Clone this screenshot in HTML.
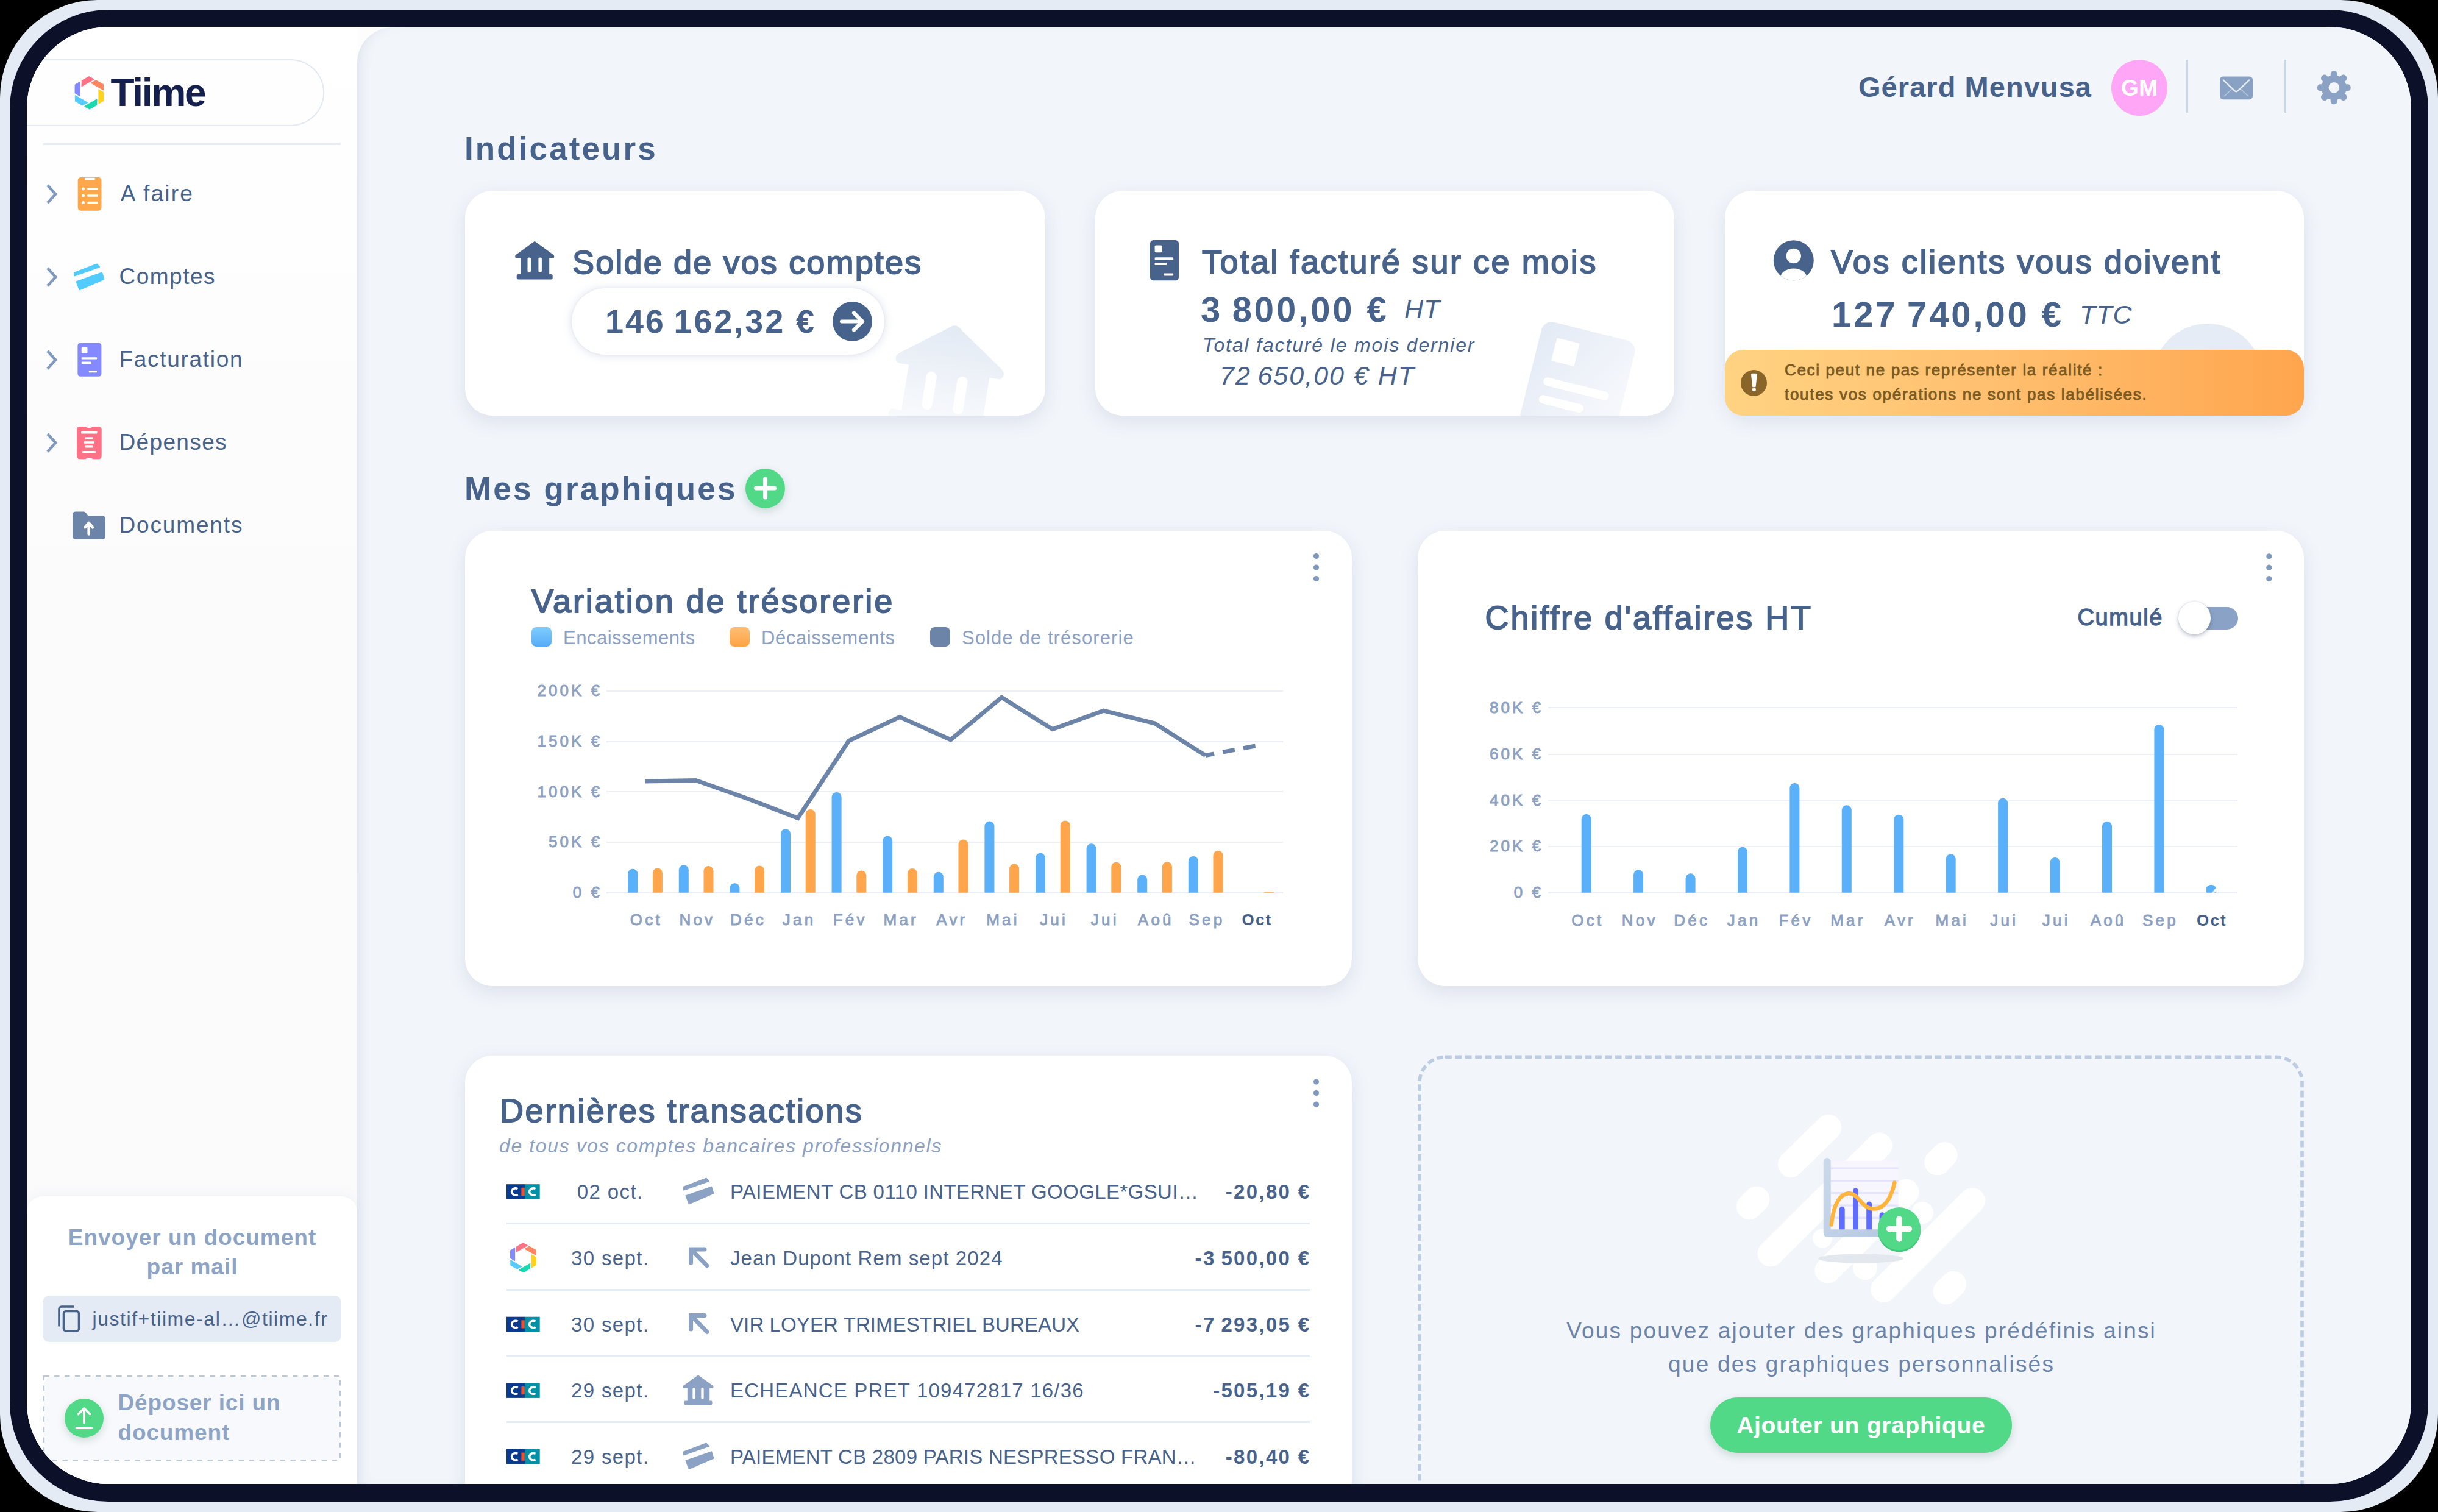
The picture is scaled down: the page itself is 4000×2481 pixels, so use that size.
<!DOCTYPE html>
<html lang="fr"><head><meta charset="utf-8"><title>Tiime</title>
<style>
html,body{margin:0;padding:0;background:#000;}
body{width:4000px;height:2481px;position:relative;overflow:hidden;font-family:"Liberation Sans", sans-serif;}
.t{position:absolute;white-space:nowrap;line-height:1;}
.abs{position:absolute;}
svg{position:absolute;left:0;top:0;overflow:visible;}
.card{position:absolute;background:#fff;border-radius:45px;box-shadow:0 10px 30px rgba(105,125,165,.16);overflow:hidden;}
</style></head><body>
<div class="abs" style="left:0;top:0;width:4000px;height:2481px;border-radius:160px;background:#E5EBF4;"></div>
<div class="abs" style="left:16px;top:16px;width:3968px;height:2448px;border-radius:162px;background:#0C1029;"></div>
<div class="abs" id="screen" style="left:44px;top:44px;width:3912px;height:2391px;border-radius:134px;overflow:hidden;background:#FDFDFE;">
<div class="abs" id="stage" style="left:-44px;top:-44px;width:4000px;height:2481px;">
<div style="position:absolute;left:44px;top:44px;width:542px;height:2391px;background:linear-gradient(180deg,#FFFFFF 0%,#FBFBFC 40%,#FAFAFB 100%);"></div>
<div style="position:absolute;left:586px;top:45px;width:3370px;height:2390px;background:#F2F5FA;border-top-left-radius:58px;box-shadow:inset 14px 0 22px -14px rgba(150,165,195,.30);"></div>
<div style="position:absolute;left:-20px;top:97px;width:552px;height:110px;box-sizing:border-box;border:2.5px solid #E2E9F3;border-radius:55px;background:#FEFEFF;"></div>
<div style="position:absolute;left:70px;top:234.5px;width:489px;height:3.0px;background:#E6ECF5;border-radius:2px;"></div>
<div class="t" style="left:181.5px;top:120.2px;font-size:64px;font-weight:700;letter-spacing:-2.2px;color:#16204F;">Tiime</div>
<div class="t" style="left:197.8px;top:299.3px;font-size:37px;letter-spacing:2.2px;color:#48638B;">A faire</div>
<div class="t" style="left:195.5px;top:435.3px;font-size:37px;letter-spacing:1.5px;color:#48638B;">Comptes</div>
<div class="t" style="left:195.5px;top:571.3px;font-size:37px;letter-spacing:1.7px;color:#48638B;">Facturation</div>
<div class="t" style="left:195.5px;top:707.3px;font-size:37px;letter-spacing:1.35px;color:#48638B;">Dépenses</div>
<div class="t" style="left:195.5px;top:843.3px;font-size:37px;letter-spacing:1.85px;color:#48638B;">Documents</div>
<div style="position:absolute;left:44px;top:1963px;width:542px;height:473px;background:#fff;border-radius:26px 26px 0 0;box-shadow:0 -4px 18px rgba(120,140,180,.06);"></div>
<div class="t" style="left:315.5px;transform:translateX(-50%);top:2011.7px;font-size:37px;font-weight:700;letter-spacing:1.0px;color:#8EA4C5;">Envoyer un document</div>
<div class="t" style="left:315.5px;transform:translateX(-50%);top:2060.2px;font-size:37px;font-weight:700;letter-spacing:1.0px;color:#8EA4C5;">par mail</div>
<div style="position:absolute;left:70px;top:2126px;width:489.5px;height:75.5px;background:#E4EBF4;border-radius:11px;"></div>
<div class="t" style="left:151.5px;top:2147.6px;font-size:32px;letter-spacing:1.55px;color:#48638B;">justif+tiime-al…@tiime.fr</div>
<div style="position:absolute;left:72.5px;top:2258.5px;width:485.0px;height:137.0px;background:#F8F9FC;border-radius:12px;"></div>
<div class="abs" style="left:106px;top:2295px;width:64px;height:64px;border-radius:50%;background:#52D987;box-shadow:0 5px 14px rgba(60,120,90,.22);"></div>
<div class="t" style="left:193.5px;top:2282.7px;font-size:37px;font-weight:700;letter-spacing:0.85px;color:#8EA4C5;">Déposer ici un</div>
<div class="t" style="left:193.5px;top:2331.7px;font-size:37px;font-weight:700;letter-spacing:0.85px;color:#8EA4C5;">document</div>
<div class="t" style="left:3049.0px;top:119.2px;font-size:47px;font-weight:700;letter-spacing:1.05px;color:#48638B;">Gérard Menvusa</div>
<div class="abs" style="left:3464px;top:97.5px;width:92px;height:92px;border-radius:50%;background:#FFA6F6;"></div>
<div class="t" style="left:3510.2px;transform:translateX(-50%);top:125.5px;font-size:37px;font-weight:700;letter-spacing:0.5px;color:#fff;">GM</div>
<div style="position:absolute;left:3587px;top:98px;width:3px;height:87px;background:#C9D6E8;"></div>
<div style="position:absolute;left:3747.5px;top:98px;width:3.0px;height:87px;background:#C9D6E8;"></div>
<div class="t" style="left:762.0px;top:217.1px;font-size:53px;font-weight:700;letter-spacing:3.1px;color:#48638B;">Indicateurs</div>
<div class="card" style="left:763px;top:313px;width:952px;height:369px;">
<svg width="952" height="369"><defs><linearGradient id="wm1" x1="0" y1="0" x2="0" y2="1"><stop offset="0" stop-color="#E3EAF4"/><stop offset="1" stop-color="#FAFBFD"/></linearGradient></defs><g transform="translate(803.8,217.5) rotate(9.2) scale(2.85) translate(-32,0)"><path d="M28.6 3.4 Q32.6 -0.9 36.6 3.4 L62.4 21.6 Q65 23.6 64.4 25.6 Q63.8 27.8 61.4 27.8 H56.6 V54.2 H59 a2.5 2.5 0 0 1 2.5 2.5 V60.3 a2.5 2.5 0 0 1 -2.5 2.5 H5 a2.5 2.5 0 0 1 -2.5 -2.5 V56.7 a2.5 2.5 0 0 1 2.5 -2.5 H9.6 V27.8 H4.6 Q2.2 27.8 1.6 25.6 Q1 23.6 3.6 21.6 Z M20.6 32.6 V48.6 a3 3 0 0 0 6 0 V32.6 a3 3 0 0 0 -6 0 Z M38.6 32.6 V48.6 a3 3 0 0 0 6 0 V32.6 a3 3 0 0 0 -6 0 Z" fill="url(#wm1)" fill-rule="evenodd"/></g></svg>
</div>
<div class="card" style="left:1796.5px;top:313px;width:950.5px;height:369px;">
<svg width="950" height="369"><defs><linearGradient id="wm2" x1="0" y1="0" x2="1" y2="0.75"><stop offset="0" stop-color="#E3EAF5"/><stop offset="1" stop-color="#F9FAFD"/></linearGradient></defs><g transform="translate(736.0999999999999,211.5) rotate(14) scale(4.05)"><rect width="39" height="55" rx="4.3" fill="url(#wm2)"/><rect x="6.9" y="5.9" width="9.5" height="9.5" rx="0.4" fill="#fff"/><rect x="5.8" y="22.3" width="27.2" height="3.4" rx="1.7" fill="#fff"/><rect x="5.8" y="29.7" width="18.5" height="3.4" rx="1.7" fill="#fff"/></g></svg>
</div>
<div class="card" style="left:2829.5px;top:313px;width:950.5px;height:369px;">
<div class="abs" style="left:701.5px;top:218px;width:182px;height:182px;border-radius:50%;background:#E6ECF5;"></div>
</div>
<div class="abs" style="left:2829.5px;top:573.8px;width:950.5px;height:108.4px;border-radius:30px;background:linear-gradient(90deg,#FFD382 0%,#FFC070 45%,#FFA54E 100%);"></div>
<div class="t" style="left:939.0px;top:402.6px;font-size:54px;letter-spacing:2.15px;color:#48638B;-webkit-text-stroke:1.8px #48638B;paint-order:stroke fill;">Solde de vos comptes</div>
<div class="abs" style="left:938px;top:473px;width:513px;height:108.5px;border-radius:55px;background:#fff;box-shadow:0 1px 15px rgba(96,122,170,.24), 0 0 3px rgba(96,122,170,.10);"></div>
<div class="t" style="left:993.0px;top:500.0px;font-size:54px;font-weight:700;letter-spacing:2.9px;color:#48638B;">146&#8201;162,32 €</div>
<div class="abs" style="left:1365.5px;top:495px;width:65px;height:65px;border-radius:50%;background:#48638B;"></div>
<div class="t" style="left:1972.0px;top:401.5px;font-size:54px;letter-spacing:2.55px;color:#48638B;-webkit-text-stroke:1.8px #48638B;paint-order:stroke fill;">Total facturé sur ce mois</div>
<div class="t" style="left:1970.0px;top:478.7px;font-size:58px;font-weight:700;letter-spacing:3.9px;color:#48638B;">3&#8201;800,00 €</div>
<div class="t" style="left:2304.0px;top:485.6px;font-size:43px;font-style:italic;letter-spacing:1px;color:#48638B;">HT</div>
<div class="t" style="left:1973.0px;top:549.9px;font-size:32px;font-style:italic;letter-spacing:1.85px;color:#48638B;">Total facturé le mois dernier</div>
<div class="t" style="left:2001.0px;top:594.6px;font-size:43px;font-style:italic;letter-spacing:2.0px;color:#48638B;">72&#8201;650,00 € HT</div>
<div class="t" style="left:3004.0px;top:401.5px;font-size:54px;letter-spacing:2.7px;color:#48638B;-webkit-text-stroke:1.8px #48638B;paint-order:stroke fill;">Vos clients vous doivent</div>
<div class="t" style="left:3005.0px;top:487.1px;font-size:58px;font-weight:700;letter-spacing:3.9px;color:#48638B;">127&#8201;740,00 €</div>
<div class="t" style="left:3412.0px;top:494.6px;font-size:43px;font-style:italic;letter-spacing:1px;color:#48638B;">TTC</div>
<div class="abs" style="left:2856px;top:606.6px;width:43.4px;height:43.4px;border-radius:50%;background:#8A6529;"></div>
<div class="t" style="left:2928.0px;top:594.0px;font-size:26px;letter-spacing:1.65px;color:#7B5B22;-webkit-text-stroke:0.9px #7B5B22;paint-order:stroke fill;">Ceci peut ne pas représenter la réalité :</div>
<div class="t" style="left:2928.0px;top:633.6px;font-size:26px;letter-spacing:1.7px;color:#7B5B22;-webkit-text-stroke:0.9px #7B5B22;paint-order:stroke fill;">toutes vos opérations ne sont pas labélisées.</div>
<div class="t" style="left:762.0px;top:775.1px;font-size:53px;font-weight:700;letter-spacing:3.15px;color:#48638B;">Mes graphiques</div>
<div class="abs" style="left:1223px;top:768.5px;width:65px;height:65px;border-radius:50%;background:#52D987;box-shadow:0 5px 14px rgba(60,120,90,.22);"></div>
<div class="card" style="left:763px;top:870.5px;width:1455px;height:747px;"></div>
<div class="t" style="left:872.0px;top:958.9px;font-size:54px;letter-spacing:2.95px;color:#48638B;-webkit-text-stroke:1.8px #48638B;paint-order:stroke fill;">Variation de trésorerie</div>
<div class="abs" style="left:872px;top:1029px;width:33px;height:32px;border-radius:8px;background:linear-gradient(180deg,#7ECDFF,#55ABF8);"></div>
<div class="t" style="left:924.0px;top:1030.6px;font-size:31px;letter-spacing:0.5px;color:#8CA1C2;">Encaissements</div>
<div class="abs" style="left:1196.5px;top:1029px;width:33px;height:32px;border-radius:8px;background:linear-gradient(180deg,#FFBE73,#FFA345);"></div>
<div class="t" style="left:1249.0px;top:1030.6px;font-size:31px;letter-spacing:0.6px;color:#8CA1C2;">Décaissements</div>
<div class="abs" style="left:1525.5px;top:1029px;width:33px;height:32px;border-radius:8px;background:#6B84A8;"></div>
<div class="t" style="left:1578.0px;top:1030.6px;font-size:31px;letter-spacing:1.1px;color:#8CA1C2;">Solde de trésorerie</div>
<div style="position:absolute;left:995px;top:1132.5px;width:1109.5px;height:2.0px;background:#ECEFF7;"></div>
<div class="t" style="right:3012.0px;top:1119.9px;font-size:26px;letter-spacing:4.0px;color:#8CA1C2;-webkit-text-stroke:0.9px #8CA1C2;paint-order:stroke fill;">200K €</div>
<div style="position:absolute;left:995px;top:1215.5px;width:1109.5px;height:2.0px;background:#ECEFF7;"></div>
<div class="t" style="right:3012.0px;top:1202.9px;font-size:26px;letter-spacing:4.0px;color:#8CA1C2;-webkit-text-stroke:0.9px #8CA1C2;paint-order:stroke fill;">150K €</div>
<div style="position:absolute;left:995px;top:1298.3px;width:1109.5px;height:2.0px;background:#ECEFF7;"></div>
<div class="t" style="right:3012.0px;top:1285.7px;font-size:26px;letter-spacing:4.0px;color:#8CA1C2;-webkit-text-stroke:0.9px #8CA1C2;paint-order:stroke fill;">100K €</div>
<div style="position:absolute;left:995px;top:1381px;width:1109.5px;height:2px;background:#ECEFF7;"></div>
<div class="t" style="right:3012.0px;top:1368.4px;font-size:26px;letter-spacing:4.0px;color:#8CA1C2;-webkit-text-stroke:0.9px #8CA1C2;paint-order:stroke fill;">50K €</div>
<div style="position:absolute;left:995px;top:1463.7px;width:1109.5px;height:2.0px;background:#ECEFF7;"></div>
<div class="t" style="right:3012.0px;top:1451.1px;font-size:26px;letter-spacing:4.0px;color:#8CA1C2;-webkit-text-stroke:0.9px #8CA1C2;paint-order:stroke fill;">0 €</div>
<div class="t" style="left:1060.3px;transform:translateX(-50%);top:1495.5px;font-size:26px;letter-spacing:4.2px;color:#8CA1C2;-webkit-text-stroke:0.9px #8CA1C2;paint-order:stroke fill;">Oct</div>
<div class="t" style="left:1143.9px;transform:translateX(-50%);top:1495.5px;font-size:26px;letter-spacing:4.2px;color:#8CA1C2;-webkit-text-stroke:0.9px #8CA1C2;paint-order:stroke fill;">Nov</div>
<div class="t" style="left:1227.5px;transform:translateX(-50%);top:1495.5px;font-size:26px;letter-spacing:4.2px;color:#8CA1C2;-webkit-text-stroke:0.9px #8CA1C2;paint-order:stroke fill;">Déc</div>
<div class="t" style="left:1311.1px;transform:translateX(-50%);top:1495.5px;font-size:26px;letter-spacing:4.2px;color:#8CA1C2;-webkit-text-stroke:0.9px #8CA1C2;paint-order:stroke fill;">Jan</div>
<div class="t" style="left:1394.7px;transform:translateX(-50%);top:1495.5px;font-size:26px;letter-spacing:4.2px;color:#8CA1C2;-webkit-text-stroke:0.9px #8CA1C2;paint-order:stroke fill;">Fév</div>
<div class="t" style="left:1478.3px;transform:translateX(-50%);top:1495.5px;font-size:26px;letter-spacing:4.2px;color:#8CA1C2;-webkit-text-stroke:0.9px #8CA1C2;paint-order:stroke fill;">Mar</div>
<div class="t" style="left:1561.9px;transform:translateX(-50%);top:1495.5px;font-size:26px;letter-spacing:4.2px;color:#8CA1C2;-webkit-text-stroke:0.9px #8CA1C2;paint-order:stroke fill;">Avr</div>
<div class="t" style="left:1645.5px;transform:translateX(-50%);top:1495.5px;font-size:26px;letter-spacing:4.2px;color:#8CA1C2;-webkit-text-stroke:0.9px #8CA1C2;paint-order:stroke fill;">Mai</div>
<div class="t" style="left:1729.1px;transform:translateX(-50%);top:1495.5px;font-size:26px;letter-spacing:4.2px;color:#8CA1C2;-webkit-text-stroke:0.9px #8CA1C2;paint-order:stroke fill;">Jui</div>
<div class="t" style="left:1812.7px;transform:translateX(-50%);top:1495.5px;font-size:26px;letter-spacing:4.2px;color:#8CA1C2;-webkit-text-stroke:0.9px #8CA1C2;paint-order:stroke fill;">Jui</div>
<div class="t" style="left:1896.3px;transform:translateX(-50%);top:1495.5px;font-size:26px;letter-spacing:4.2px;color:#8CA1C2;-webkit-text-stroke:0.9px #8CA1C2;paint-order:stroke fill;">Aoû</div>
<div class="t" style="left:1979.9px;transform:translateX(-50%);top:1495.5px;font-size:26px;letter-spacing:4.2px;color:#8CA1C2;-webkit-text-stroke:0.9px #8CA1C2;paint-order:stroke fill;">Sep</div>
<div class="t" style="left:2062.5px;transform:translateX(-50%);top:1495.5px;font-size:26px;font-weight:700;letter-spacing:2.2px;color:#435E87;">Oct</div>
<div class="card" style="left:2326px;top:870.5px;width:1454px;height:747px;"></div>
<div class="t" style="left:2436.5px;top:985.8px;font-size:54px;letter-spacing:2.9px;color:#48638B;-webkit-text-stroke:1.8px #48638B;paint-order:stroke fill;">Chiffre d'affaires HT</div>
<div class="t" style="left:3408.5px;top:994.1px;font-size:38px;letter-spacing:1.6px;color:#48638B;-webkit-text-stroke:1.3px #48638B;paint-order:stroke fill;">Cumulé</div>
<div style="position:absolute;left:3583px;top:995.5px;width:88.5px;height:37.5px;background:#8AA2C5;border-radius:19px;"></div>
<div class="abs" style="left:3573.8px;top:987.4px;width:53.4px;height:53.4px;border-radius:50%;background:#fff;box-shadow:0 3px 7px rgba(40,55,90,.30),0 0 2px rgba(40,55,90,.2);"></div>
<div style="position:absolute;left:2540px;top:1160.3px;width:1131px;height:2.0px;background:#ECEFF7;"></div>
<div class="t" style="right:1468.0px;top:1147.7px;font-size:26px;letter-spacing:4.0px;color:#8CA1C2;-webkit-text-stroke:0.9px #8CA1C2;paint-order:stroke fill;">80K €</div>
<div style="position:absolute;left:2540px;top:1236.5px;width:1131px;height:2.0px;background:#ECEFF7;"></div>
<div class="t" style="right:1468.0px;top:1223.9px;font-size:26px;letter-spacing:4.0px;color:#8CA1C2;-webkit-text-stroke:0.9px #8CA1C2;paint-order:stroke fill;">60K €</div>
<div style="position:absolute;left:2540px;top:1312.3px;width:1131px;height:2.0px;background:#ECEFF7;"></div>
<div class="t" style="right:1468.0px;top:1299.7px;font-size:26px;letter-spacing:4.0px;color:#8CA1C2;-webkit-text-stroke:0.9px #8CA1C2;paint-order:stroke fill;">40K €</div>
<div style="position:absolute;left:2540px;top:1388px;width:1131px;height:2px;background:#ECEFF7;"></div>
<div class="t" style="right:1468.0px;top:1375.4px;font-size:26px;letter-spacing:4.0px;color:#8CA1C2;-webkit-text-stroke:0.9px #8CA1C2;paint-order:stroke fill;">20K €</div>
<div style="position:absolute;left:2540px;top:1463.7px;width:1131px;height:2.0px;background:#ECEFF7;"></div>
<div class="t" style="right:1468.0px;top:1451.1px;font-size:26px;letter-spacing:4.0px;color:#8CA1C2;-webkit-text-stroke:0.9px #8CA1C2;paint-order:stroke fill;">0 €</div>
<div class="t" style="left:2604.8px;transform:translateX(-50%);top:1496.8px;font-size:26px;letter-spacing:4.2px;color:#8CA1C2;-webkit-text-stroke:0.9px #8CA1C2;paint-order:stroke fill;">Oct</div>
<div class="t" style="left:2690.2px;transform:translateX(-50%);top:1496.8px;font-size:26px;letter-spacing:4.2px;color:#8CA1C2;-webkit-text-stroke:0.9px #8CA1C2;paint-order:stroke fill;">Nov</div>
<div class="t" style="left:2775.7px;transform:translateX(-50%);top:1496.8px;font-size:26px;letter-spacing:4.2px;color:#8CA1C2;-webkit-text-stroke:0.9px #8CA1C2;paint-order:stroke fill;">Déc</div>
<div class="t" style="left:2861.1px;transform:translateX(-50%);top:1496.8px;font-size:26px;letter-spacing:4.2px;color:#8CA1C2;-webkit-text-stroke:0.9px #8CA1C2;paint-order:stroke fill;">Jan</div>
<div class="t" style="left:2946.5px;transform:translateX(-50%);top:1496.8px;font-size:26px;letter-spacing:4.2px;color:#8CA1C2;-webkit-text-stroke:0.9px #8CA1C2;paint-order:stroke fill;">Fév</div>
<div class="t" style="left:3031.9px;transform:translateX(-50%);top:1496.8px;font-size:26px;letter-spacing:4.2px;color:#8CA1C2;-webkit-text-stroke:0.9px #8CA1C2;paint-order:stroke fill;">Mar</div>
<div class="t" style="left:3117.4px;transform:translateX(-50%);top:1496.8px;font-size:26px;letter-spacing:4.2px;color:#8CA1C2;-webkit-text-stroke:0.9px #8CA1C2;paint-order:stroke fill;">Avr</div>
<div class="t" style="left:3202.8px;transform:translateX(-50%);top:1496.8px;font-size:26px;letter-spacing:4.2px;color:#8CA1C2;-webkit-text-stroke:0.9px #8CA1C2;paint-order:stroke fill;">Mai</div>
<div class="t" style="left:3288.2px;transform:translateX(-50%);top:1496.8px;font-size:26px;letter-spacing:4.2px;color:#8CA1C2;-webkit-text-stroke:0.9px #8CA1C2;paint-order:stroke fill;">Jui</div>
<div class="t" style="left:3373.7px;transform:translateX(-50%);top:1496.8px;font-size:26px;letter-spacing:4.2px;color:#8CA1C2;-webkit-text-stroke:0.9px #8CA1C2;paint-order:stroke fill;">Jui</div>
<div class="t" style="left:3459.1px;transform:translateX(-50%);top:1496.8px;font-size:26px;letter-spacing:4.2px;color:#8CA1C2;-webkit-text-stroke:0.9px #8CA1C2;paint-order:stroke fill;">Aoû</div>
<div class="t" style="left:3544.5px;transform:translateX(-50%);top:1496.8px;font-size:26px;letter-spacing:4.2px;color:#8CA1C2;-webkit-text-stroke:0.9px #8CA1C2;paint-order:stroke fill;">Sep</div>
<div class="t" style="left:3629.0px;transform:translateX(-50%);top:1496.8px;font-size:26px;font-weight:700;letter-spacing:2.2px;color:#435E87;">Oct</div>
<div class="card" style="left:763px;top:1732px;width:1455px;height:760px;"></div>
<div class="t" style="left:820.0px;top:1794.6px;font-size:54px;letter-spacing:2.55px;color:#48638B;-webkit-text-stroke:1.8px #48638B;paint-order:stroke fill;">Dernières transactions</div>
<div class="t" style="left:819.0px;top:1863.6px;font-size:32px;font-style:italic;letter-spacing:1.6px;color:#8CA1C2;">de tous vos comptes bancaires professionnels</div>
<div class="t" style="left:1001.2px;transform:translateX(-50%);top:1939.0px;font-size:33px;letter-spacing:1.4px;color:#48638B;">02 oct.</div>
<div class="t" style="left:1198.0px;top:1939.0px;font-size:33px;letter-spacing:0.4px;color:#48638B;">PAIEMENT CB 0110 INTERNET GOOGLE*GSUI…</div>
<div class="t" style="right:1849.7px;top:1939.0px;font-size:33px;font-weight:700;letter-spacing:2.3px;color:#48638B;">-20,80 €</div>
<div class="t" style="left:1001.2px;transform:translateX(-50%);top:2047.9px;font-size:33px;letter-spacing:1.4px;color:#48638B;">30 sept.</div>
<div class="t" style="left:1198.0px;top:2047.9px;font-size:33px;letter-spacing:1.1px;color:#48638B;">Jean Dupont Rem sept 2024</div>
<div class="t" style="right:1849.7px;top:2047.9px;font-size:33px;font-weight:700;letter-spacing:2.3px;color:#48638B;">-3&#8201;500,00 €</div>
<div class="t" style="left:1001.2px;transform:translateX(-50%);top:2156.5px;font-size:33px;letter-spacing:1.4px;color:#48638B;">30 sept.</div>
<div class="t" style="left:1198.0px;top:2156.5px;font-size:33px;letter-spacing:0.1px;color:#48638B;">VIR LOYER TRIMESTRIEL BUREAUX</div>
<div class="t" style="right:1849.7px;top:2156.5px;font-size:33px;font-weight:700;letter-spacing:2.3px;color:#48638B;">-7&#8201;293,05 €</div>
<div class="t" style="left:1001.2px;transform:translateX(-50%);top:2265.3px;font-size:33px;letter-spacing:1.4px;color:#48638B;">29 sept.</div>
<div class="t" style="left:1198.0px;top:2265.3px;font-size:33px;letter-spacing:1.2px;color:#48638B;">ECHEANCE PRET 109472817 16/36</div>
<div class="t" style="right:1849.7px;top:2265.3px;font-size:33px;font-weight:700;letter-spacing:2.3px;color:#48638B;">-505,19 €</div>
<div class="t" style="left:1001.2px;transform:translateX(-50%);top:2373.8px;font-size:33px;letter-spacing:1.4px;color:#48638B;">29 sept.</div>
<div class="t" style="left:1198.0px;top:2373.8px;font-size:33px;letter-spacing:0.25px;color:#48638B;">PAIEMENT CB 2809 PARIS NESPRESSO FRAN…</div>
<div class="t" style="right:1849.7px;top:2373.8px;font-size:33px;font-weight:700;letter-spacing:2.3px;color:#48638B;">-80,40 €</div>
<div style="position:absolute;left:831px;top:2006.3px;width:1318px;height:2.800000000000182px;background:#E4ECF5;"></div>
<div style="position:absolute;left:831px;top:2115.2px;width:1318px;height:2.800000000000182px;background:#E4ECF5;"></div>
<div style="position:absolute;left:831px;top:2223.6px;width:1318px;height:2.800000000000182px;background:#E4ECF5;"></div>
<div style="position:absolute;left:831px;top:2332.4px;width:1318px;height:2.800000000000182px;background:#E4ECF5;"></div>
<svg width="4000" height="2481"><rect x="2329" y="1734.4" width="1448" height="760" rx="42" fill="none" stroke="#BCCCE1" stroke-width="5.6" stroke-dasharray="10.8 5.6"/></svg>
<div class="t" style="left:3054.1px;transform:translateX(-50%);top:2165.2px;font-size:37px;letter-spacing:2.2px;color:#6B84A8;">Vous pouvez ajouter des graphiques prédéfinis ainsi</div>
<div class="t" style="left:3054.1px;transform:translateX(-50%);top:2219.7px;font-size:37px;letter-spacing:2.2px;color:#6B84A8;">que des graphiques personnalisés</div>
<div class="abs" style="left:2805.5px;top:2292.5px;width:495px;height:91px;border-radius:46px;background:#52D987;box-shadow:0 5px 14px rgba(60,120,90,.22);"></div>
<div class="t" style="left:3053.3px;transform:translateX(-50%);top:2319.0px;font-size:39px;font-weight:700;letter-spacing:0.7px;color:#fff;">Ajouter un graphique</div>
<svg width="4000" height="2481"><g transform="translate(146.5,152.3)"><polygon points="11.22,-20.31 22.73,-13.66 23.04,-4.64 3.26,-16.07" fill="#FF8662" stroke="#FF8662" stroke-width="1.4" stroke-linejoin="round"/><polygon points="23.20,-0.44 23.20,12.86 15.54,17.63 15.54,-5.21" fill="#FFD21C" stroke="#FFD21C" stroke-width="1.4" stroke-linejoin="round"/><polygon points="11.98,19.87 0.46,26.52 -7.50,22.28 12.29,10.85" fill="#19D9B0" stroke="#19D9B0" stroke-width="1.4" stroke-linejoin="round"/><polygon points="-11.22,20.31 -22.73,13.66 -23.04,4.64 -3.26,16.07" fill="#54CCFF" stroke="#54CCFF" stroke-width="1.4" stroke-linejoin="round"/><polygon points="-23.20,0.44 -23.20,-12.86 -15.54,-17.63 -15.54,5.21" fill="#8388FF" stroke="#8388FF" stroke-width="1.4" stroke-linejoin="round"/><polygon points="-11.98,-19.87 -0.46,-26.52 7.50,-22.28 -12.29,-10.85" fill="#FF7285" stroke="#FF7285" stroke-width="1.4" stroke-linejoin="round"/></g><path d="M78 304.0 L91.2 318.5 L78 333.0" fill="none" stroke="#8199BC" stroke-width="4.6" stroke-linejoin="miter"/><path d="M78 440.0 L91.2 454.5 L78 469.0" fill="none" stroke="#8199BC" stroke-width="4.6" stroke-linejoin="miter"/><path d="M78 576.0 L91.2 590.5 L78 605.0" fill="none" stroke="#8199BC" stroke-width="4.6" stroke-linejoin="miter"/><path d="M78 712.0 L91.2 726.5 L78 741.0" fill="none" stroke="#8199BC" stroke-width="4.6" stroke-linejoin="miter"/><g transform="translate(127.7,291)"><rect width="38.8" height="54.8" rx="5" fill="#FFA74A"/><rect x="11.5" y="0.8" width="16.5" height="3.8" fill="#fff" rx="1"/><circle cx="8.8" cy="18.9" r="2.5" fill="#fff"/><rect x="15.5" y="17.2" width="17.6" height="3.4" rx="1" fill="#fff"/><circle cx="8.8" cy="30" r="2.5" fill="#fff"/><rect x="15.5" y="28.3" width="17.6" height="3.4" rx="1" fill="#fff"/><circle cx="8.8" cy="41.4" r="2.5" fill="#fff"/><rect x="15.5" y="39.699999999999996" width="17.6" height="3.4" rx="1" fill="#fff"/></g><g transform="translate(120.9,432.3)" fill="#52CCFF" stroke="#52CCFF" stroke-width="2" stroke-linejoin="round"><polygon points="1,15.3 37.8,1.2 42.2,5.7 1.2,20.2"/><polygon points="4.6,29.8 46.3,15.2 49.5,25.7 9.7,43"/></g><g transform="translate(127.4,562.8) scale(1)"><rect width="39" height="55" rx="4.5" fill="#8489FF"/><rect x="6.3" y="7" width="9.8" height="9.8" rx="1.6" fill="#fff"/><rect x="6.3" y="23.4" width="25.4" height="3.3" rx="1" fill="#fff"/><rect x="6.3" y="30.8" width="16.3" height="3.3" rx="1" fill="#fff"/><rect x="18.3" y="45.2" width="13.4" height="3.3" rx="1" fill="#fff"/></g><g transform="translate(126,700)"><path d="M4.5 0 H15 a5.4 2.2 0 0 0 10.8 0 H36.2 a4.5 4.5 0 0 1 4.5 4.5 V48.8 a4.5 4.5 0 0 1 -4.5 4.5 H25.8 a5.4 2.2 0 0 0 -10.8 0 H4.5 a4.5 4.5 0 0 1 -4.5 -4.5 V4.5 a4.5 4.5 0 0 1 4.5 -4.5z" fill="#FF7285"/><rect x="7" y="7.999999999999999" width="26.5" height="3.4" rx="1" fill="#fff"/><rect x="13.8" y="17.3" width="13.0" height="3.4" rx="1" fill="#fff"/><rect x="11.7" y="24.3" width="17.3" height="3.4" rx="1" fill="#fff"/><rect x="13.8" y="31.2" width="13.0" height="3.4" rx="1" fill="#fff"/><rect x="9" y="40.0" width="22" height="3.4" rx="1" fill="#fff"/></g><g transform="translate(119,839.4)"><path d="M5 0 H18 a5 5 0 0 1 3.8 1.8 L25.5 6.8 H49 a5 5 0 0 1 5 5 V40.6 a5 5 0 0 1 -5 5 H5 a5 5 0 0 1 -5 -5 V5 a5 5 0 0 1 5 -5z" fill="#6B84A8"/><path d="M26.7 37 V20.5 M20.4 25.8 L26.7 18.6 L33 25.8" fill="none" stroke="#fff" stroke-width="4.6" stroke-linecap="round" stroke-linejoin="round"/></g><g fill="none" stroke="#48638B" stroke-width="3.6" stroke-linejoin="round"><rect x="104.5" y="2151.5" width="25" height="32.5" rx="4" fill="#E4EBF4"/><path d="M97 2176.5 V2148 a4 4 0 0 1 4 -4 H121"/></g><rect x="72" y="2258" width="486" height="138" fill="none" stroke="#B9C8DF" stroke-width="2.2" stroke-dasharray="8.5 8.5"/><g fill="none" stroke="#fff" stroke-width="3.8" stroke-linecap="round" stroke-linejoin="round"><path d="M138 2334.5 V2312 M128.5 2320.5 L138 2311 L147.5 2320.5 M125.5 2343 H150.5"/></g><g><rect x="3642" y="125.4" width="54" height="37.8" rx="5.5" fill="#89A1C2"/><path d="M3647.8 131.4 L3666.5 149.2 Q3669 151.4 3671.5 149.2 L3690.3 131.4" fill="none" stroke="#E6ECF5" stroke-width="2.4" stroke-linecap="round"/><path d="M3649.5 157.6 L3661.5 146.5 M3688.6 157.6 L3676.6 146.5" fill="none" stroke="#B4C3DA" stroke-width="1.7" stroke-linecap="round"/></g><g transform="translate(3829.3,143.8)" fill="#8BA2C4"><circle r="20.6"/><rect x="-5.6" y="-27.4" width="11.2" height="12" rx="4.9" transform="rotate(0)"/><rect x="-5.6" y="-27.4" width="11.2" height="12" rx="4.9" transform="rotate(45)"/><rect x="-5.6" y="-27.4" width="11.2" height="12" rx="4.9" transform="rotate(90)"/><rect x="-5.6" y="-27.4" width="11.2" height="12" rx="4.9" transform="rotate(135)"/><rect x="-5.6" y="-27.4" width="11.2" height="12" rx="4.9" transform="rotate(180)"/><rect x="-5.6" y="-27.4" width="11.2" height="12" rx="4.9" transform="rotate(225)"/><rect x="-5.6" y="-27.4" width="11.2" height="12" rx="4.9" transform="rotate(270)"/><rect x="-5.6" y="-27.4" width="11.2" height="12" rx="4.9" transform="rotate(315)"/><circle r="8.8" fill="#F2F5FA"/></g></svg>
<svg width="4000" height="2481"><g transform="translate(845.2,395.8)"><path d="M32 0 L63 22.5 a2.5 2.5 0 0 1 1 2 V25.7 a2 2 0 0 1 -2 2 H56 V54.2 H59 a2.5 2.5 0 0 1 2.5 2.5 V60.3 a2.5 2.5 0 0 1 -2.5 2.5 H5 a2.5 2.5 0 0 1 -2.5 -2.5 V56.7 a2.5 2.5 0 0 1 2.5 -2.5 H9.3 V27.7 H2 a2 2 0 0 1 -2 -2 V24.5 a2.5 2.5 0 0 1 1 -2 Z M20.3 29.5 V48.4 a2.75 2.75 0 0 0 5.5 0 V29.5 a2.75 2.75 0 0 0 -5.5 0 Z M38.2 29.5 V48.4 a2.75 2.75 0 0 0 5.5 0 V29.5 a2.75 2.75 0 0 0 -5.5 0 Z" fill="#48638B" fill-rule="evenodd"/></g><path d="M1381 527.5 H1413.5 M1401 513.5 L1415 527.5 L1401 541.5" fill="none" stroke="#fff" stroke-width="6.2" stroke-linecap="round" stroke-linejoin="round"/><g transform="translate(1887,394) scale(1.205)"><rect width="39" height="55" rx="4.5" fill="#48638B"/><rect x="6.3" y="7" width="9.8" height="9.8" rx="1.6" fill="#fff"/><rect x="6.3" y="23.4" width="25.4" height="3.3" rx="1" fill="#fff"/><rect x="6.3" y="30.8" width="16.3" height="3.3" rx="1" fill="#fff"/><rect x="18.3" y="45.2" width="13.4" height="3.3" rx="1" fill="#fff"/></g><g><defs><clipPath id="uc"><circle cx="2942.8" cy="427.3" r="33"/></clipPath></defs><circle cx="2942.8" cy="427.3" r="33" fill="#48638B"/><circle cx="2942.8" cy="420" r="12.2" fill="#fff"/><ellipse cx="2942.8" cy="456.5" rx="22" ry="16" fill="#fff" clip-path="url(#uc)"/></g><path d="M2873 614.6 a1.8 1.8 0 0 1 1.8 -1.8 h6.2 a1.8 1.8 0 0 1 1.8 1.8 l-2.1 19.6 a1.2 1.2 0 0 1 -1.2 1.1 h-3.2 a1.2 1.2 0 0 1 -1.2 -1.1 Z" fill="#fff"/><rect x="2875" y="636.8" width="5.8" height="4.9" rx="1.6" fill="#fff"/><path d="M1255.6 786 V816 M1240.6 801 H1270.6" stroke="#fff" stroke-width="7" stroke-linecap="round"/><circle cx="2159.5" cy="912.5" r="4.6" fill="#7F9ABE"/><circle cx="2159.5" cy="931" r="4.6" fill="#7F9ABE"/><circle cx="2159.5" cy="949.5" r="4.6" fill="#7F9ABE"/><path d="M1030.2 1464.7 V1433.7 a8 8 0 0 1 16 0 V1464.7 Z" fill="#5AB0F9"/><path d="M1070.9 1464.7 V1432.5 a8 8 0 0 1 16 0 V1464.7 Z" fill="#FFA64D"/><path d="M1113.8 1464.7 V1427.3 a8 8 0 0 1 16 0 V1464.7 Z" fill="#5AB0F9"/><path d="M1154.5 1464.7 V1429.1 a8 8 0 0 1 16 0 V1464.7 Z" fill="#FFA64D"/><path d="M1197.4 1464.7 V1457.0 a8 7.75 0 0 1 16 0 V1464.7 Z" fill="#5AB0F9"/><path d="M1238.1 1464.7 V1428.5 a8 8 0 0 1 16 0 V1464.7 Z" fill="#FFA64D"/><path d="M1281.0 1464.7 V1368.2 a8 8 0 0 1 16 0 V1464.7 Z" fill="#5AB0F9"/><path d="M1321.7 1464.7 V1336.0 a8 8 0 0 1 16 0 V1464.7 Z" fill="#FFA64D"/><path d="M1364.6 1464.7 V1307.9 a8 8 0 0 1 16 0 V1464.7 Z" fill="#5AB0F9"/><path d="M1405.3 1464.7 V1436.5 a8 8 0 0 1 16 0 V1464.7 Z" fill="#FFA64D"/><path d="M1448.2 1464.7 V1379.7 a8 8 0 0 1 16 0 V1464.7 Z" fill="#5AB0F9"/><path d="M1488.9 1464.7 V1433.1 a8 8 0 0 1 16 0 V1464.7 Z" fill="#FFA64D"/><path d="M1531.8 1464.7 V1438.8 a8 8 0 0 1 16 0 V1464.7 Z" fill="#5AB0F9"/><path d="M1572.5 1464.7 V1385.4 a8 8 0 0 1 16 0 V1464.7 Z" fill="#FFA64D"/><path d="M1615.4 1464.7 V1355.6 a8 8 0 0 1 16 0 V1464.7 Z" fill="#5AB0F9"/><path d="M1656.1 1464.7 V1425.6 a8 8 0 0 1 16 0 V1464.7 Z" fill="#FFA64D"/><path d="M1699.0 1464.7 V1407.8 a8 8 0 0 1 16 0 V1464.7 Z" fill="#5AB0F9"/><path d="M1739.7 1464.7 V1354.4 a8 8 0 0 1 16 0 V1464.7 Z" fill="#FFA64D"/><path d="M1782.6 1464.7 V1392.3 a8 8 0 0 1 16 0 V1464.7 Z" fill="#5AB0F9"/><path d="M1823.3 1464.7 V1422.7 a8 8 0 0 1 16 0 V1464.7 Z" fill="#FFA64D"/><path d="M1866.2 1464.7 V1443.4 a8 8 0 0 1 16 0 V1464.7 Z" fill="#5AB0F9"/><path d="M1906.9 1464.7 V1422.2 a8 8 0 0 1 16 0 V1464.7 Z" fill="#FFA64D"/><path d="M1949.8 1464.7 V1413.0 a8 8 0 0 1 16 0 V1464.7 Z" fill="#5AB0F9"/><path d="M1990.5 1464.7 V1403.8 a8 8 0 0 1 16 0 V1464.7 Z" fill="#FFA64D"/><path d="M2074.1 1464.7 V1464.0 a8 0.75 0 0 1 16 0 V1464.7 Z" fill="#FFA64D"/><polyline points="1058.2,1282.1 1141.8,1280.4 1225.4,1310.0 1309.0,1342.4 1392.6,1215.5 1476.2,1176.5 1559.8,1213.8 1643.4,1144.3 1727.0,1196.6 1810.6,1166.1 1894.2,1186.8 1977.8,1239.6" fill="none" stroke="#6B84A8" stroke-width="7" stroke-linejoin="miter" stroke-miterlimit="6"/><path d="M1977.8 1239.6 L2061.4 1223.6" fill="none" stroke="#6B84A8" stroke-width="7" stroke-dasharray="20 14.4" stroke-dashoffset="5.5"/><circle cx="3722.8" cy="912.8" r="4.6" fill="#7F9ABE"/><circle cx="3722.8" cy="931.2" r="4.6" fill="#7F9ABE"/><circle cx="3722.8" cy="949.6" r="4.6" fill="#7F9ABE"/><path d="M2594.7 1464.7 V1344.1 a8 8 0 0 1 16 0 V1464.7 Z" fill="#5AB0F9"/><path d="M2680.1 1464.7 V1435.2 a8 8 0 0 1 16 0 V1464.7 Z" fill="#5AB0F9"/><path d="M2765.6 1464.7 V1441.3 a8 8 0 0 1 16 0 V1464.7 Z" fill="#5AB0F9"/><path d="M2851.0 1464.7 V1397.7 a8 8 0 0 1 16 0 V1464.7 Z" fill="#5AB0F9"/><path d="M2936.4 1464.7 V1293.0 a8 8 0 0 1 16 0 V1464.7 Z" fill="#5AB0F9"/><path d="M3021.8 1464.7 V1329.3 a8 8 0 0 1 16 0 V1464.7 Z" fill="#5AB0F9"/><path d="M3107.3 1464.7 V1344.7 a8 8 0 0 1 16 0 V1464.7 Z" fill="#5AB0F9"/><path d="M3192.7 1464.7 V1409.3 a8 8 0 0 1 16 0 V1464.7 Z" fill="#5AB0F9"/><path d="M3278.1 1464.7 V1317.7 a8 8 0 0 1 16 0 V1464.7 Z" fill="#5AB0F9"/><path d="M3363.6 1464.7 V1414.9 a8 8 0 0 1 16 0 V1464.7 Z" fill="#5AB0F9"/><path d="M3449.0 1464.7 V1355.8 a8 8 0 0 1 16 0 V1464.7 Z" fill="#5AB0F9"/><path d="M3534.4 1464.7 V1197.0 a8 8 0 0 1 16 0 V1464.7 Z" fill="#5AB0F9"/><defs><clipPath id="lb"><path d="M3619.9 1464.7 V1458.2 a8 6.45 0 0 1 16 0 V1464.7 Z"/></clipPath></defs><g clip-path="url(#lb)"><rect x="3619.9" y="1450" width="16" height="15" fill="#5AB0F9"/><path d="M3628.4 1466 L3637.9 1453.5 L3637.9 1458.5 L3632.5 1466 Z" fill="#fff"/></g><circle cx="2159.5" cy="1775" r="4.6" fill="#7F9ABE"/><circle cx="2159.5" cy="1793.5" r="4.6" fill="#7F9ABE"/><circle cx="2159.5" cy="1812" r="4.6" fill="#7F9ABE"/><g transform="translate(831,1943.2)"><rect width="30.5" height="24.4" fill="#0B3B8F"/><rect x="30" width="24.7" height="24.4" fill="#0091A6"/><path d="M18.5 7.6 a6.3 5.6 0 1 0 0 9.2" fill="none" stroke="#fff" stroke-width="3.6"/><rect x="24.4" y="5.6" width="5.4" height="13.2" fill="#F0502B"/><path d="M47.6 7.6 a6.3 5.6 0 1 0 0 9.2" fill="none" stroke="#fff" stroke-width="3.6"/></g><g transform="translate(1120.9,1932.4)" fill="#8BA2C4" stroke="#8BA2C4" stroke-width="2" stroke-linejoin="round"><polygon points="1,15.3 37.8,1.2 42.2,5.7 1.2,20.2"/><polygon points="4.6,29.8 46.3,15.2 49.5,25.7 9.7,43"/></g><g transform="translate(858.5,2063.7000000000003)"><polygon points="10.09,-18.33 20.52,-12.31 20.79,-4.15 2.90,-14.49" fill="#FF8662" stroke="#FF8662" stroke-width="1.2" stroke-linejoin="round"/><polygon points="20.92,-0.43 20.92,11.62 13.99,15.93 13.99,-4.74" fill="#FFD21C" stroke="#FFD21C" stroke-width="1.2" stroke-linejoin="round"/><polygon points="10.83,17.90 0.40,23.93 -6.80,20.08 11.10,9.75" fill="#19D9B0" stroke="#19D9B0" stroke-width="1.2" stroke-linejoin="round"/><polygon points="-10.09,18.33 -20.52,12.31 -20.79,4.15 -2.90,14.49" fill="#54CCFF" stroke="#54CCFF" stroke-width="1.2" stroke-linejoin="round"/><polygon points="-20.92,0.43 -20.92,-11.62 -13.99,-15.93 -13.99,4.74" fill="#8388FF" stroke="#8388FF" stroke-width="1.2" stroke-linejoin="round"/><polygon points="-10.83,-17.90 -0.40,-23.93 6.80,-20.08 -11.10,-9.75" fill="#FF7285" stroke="#FF7285" stroke-width="1.2" stroke-linejoin="round"/></g><path d="M1160.0 2076.8 L1135.0 2051.3 M1133.6 2072.3 V2049.9 H1156.0" fill="none" stroke="#8BA2C4" stroke-width="7" stroke-linecap="round" stroke-linejoin="miter"/><g transform="translate(831,2160.7000000000003)"><rect width="30.5" height="24.4" fill="#0B3B8F"/><rect x="30" width="24.7" height="24.4" fill="#0091A6"/><path d="M18.5 7.6 a6.3 5.6 0 1 0 0 9.2" fill="none" stroke="#fff" stroke-width="3.6"/><rect x="24.4" y="5.6" width="5.4" height="13.2" fill="#F0502B"/><path d="M47.6 7.6 a6.3 5.6 0 1 0 0 9.2" fill="none" stroke="#fff" stroke-width="3.6"/></g><path d="M1160.0 2185.4 L1135.0 2159.9 M1133.6 2180.9 V2158.5 H1156.0" fill="none" stroke="#8BA2C4" stroke-width="7" stroke-linecap="round" stroke-linejoin="miter"/><g transform="translate(831,2269.5)"><rect width="30.5" height="24.4" fill="#0B3B8F"/><rect x="30" width="24.7" height="24.4" fill="#0091A6"/><path d="M18.5 7.6 a6.3 5.6 0 1 0 0 9.2" fill="none" stroke="#fff" stroke-width="3.6"/><rect x="24.4" y="5.6" width="5.4" height="13.2" fill="#F0502B"/><path d="M47.6 7.6 a6.3 5.6 0 1 0 0 9.2" fill="none" stroke="#fff" stroke-width="3.6"/></g><g transform="translate(1120.54,2256.2079999999996) scale(0.78)"><path d="M32 0 L63 22.5 a2.5 2.5 0 0 1 1 2 V25.7 a2 2 0 0 1 -2 2 H56 V54.2 H59 a2.5 2.5 0 0 1 2.5 2.5 V60.3 a2.5 2.5 0 0 1 -2.5 2.5 H5 a2.5 2.5 0 0 1 -2.5 -2.5 V56.7 a2.5 2.5 0 0 1 2.5 -2.5 H9.3 V27.7 H2 a2 2 0 0 1 -2 -2 V24.5 a2.5 2.5 0 0 1 1 -2 Z M20.3 29.5 V48.4 a2.75 2.75 0 0 0 5.5 0 V29.5 a2.75 2.75 0 0 0 -5.5 0 Z M38.2 29.5 V48.4 a2.75 2.75 0 0 0 5.5 0 V29.5 a2.75 2.75 0 0 0 -5.5 0 Z" fill="#8BA2C4" fill-rule="evenodd"/></g><g transform="translate(831,2378.0)"><rect width="30.5" height="24.4" fill="#0B3B8F"/><rect x="30" width="24.7" height="24.4" fill="#0091A6"/><path d="M18.5 7.6 a6.3 5.6 0 1 0 0 9.2" fill="none" stroke="#fff" stroke-width="3.6"/><rect x="24.4" y="5.6" width="5.4" height="13.2" fill="#F0502B"/><path d="M47.6 7.6 a6.3 5.6 0 1 0 0 9.2" fill="none" stroke="#fff" stroke-width="3.6"/></g><g transform="translate(1120.9,2367.2)" fill="#8BA2C4" stroke="#8BA2C4" stroke-width="2" stroke-linejoin="round"><polygon points="1,15.3 37.8,1.2 42.2,5.7 1.2,20.2"/><polygon points="4.6,29.8 46.3,15.2 49.5,25.7 9.7,43"/></g><g stroke="#fff" stroke-width="42.5" stroke-linecap="round" fill="none"><path d="M3000 1850 L2938.1 1910.7"/><path d="M3083.3 1879.8 L2904.8 2057.1"/><path d="M2882.1 1967.9 L2870.2 1979.8"/><path d="M3190.5 1895.2 L3178.6 1907.1"/><path d="M3127.4 1956 L2998.8 2084.5"/><path d="M3235.7 1970.2 L3090.5 2115.5"/><path d="M3204.8 2107.1 L3192.9 2119"/></g><circle cx="2990" cy="2032" r="16" fill="#fff"/><circle cx="3154" cy="1990" r="18" fill="#fff"/><circle cx="3060" cy="2080" r="20" fill="#fff"/><ellipse cx="3053" cy="2065" rx="70" ry="7.6" fill="#E3E7EE"/><rect x="3003" y="1904.8" width="111.5" height="113" fill="#F7F6FE"/><rect x="3003" y="1915.3999999999999" width="111.5" height="3.4" fill="#E4E4FD"/><rect x="3003" y="1935.8999999999999" width="111.5" height="3.4" fill="#E4E4FD"/><rect x="3003" y="1955.8999999999999" width="111.5" height="3.4" fill="#E4E4FD"/><rect x="3003" y="1976.3999999999999" width="111.5" height="3.4" fill="#E4E4FD"/><rect x="3003" y="1996.6" width="111.5" height="3.4" fill="#E4E4FD"/><path d="M3017.7 2018 V1984.3 a4.5 4.5 0 0 1 9 0 V2018 Z" fill="#5E6CFF"/><path d="M3040.0 2018 V1954.0 a4.5 4.5 0 0 1 9 0 V2018 Z" fill="#5E6CFF"/><path d="M3062.2 2018 V1975.9 a4.5 4.5 0 0 1 9 0 V2018 Z" fill="#5E6CFF"/><path d="M3083.6 2018 V1993.8 a4.5 4.5 0 0 1 9 0 V2018 Z" fill="#5E6CFF"/><defs><linearGradient id="ax" x1="0" y1="0" x2="1" y2="1"><stop offset="0" stop-color="#CBD9EA"/><stop offset="1" stop-color="#B7C9E2"/></linearGradient></defs><path d="M2991.7 1906 a6 6 0 0 1 12 0 V2017.3 H3086 V2029.8 H2997.7 a6 6 0 0 1 -6 -6 Z" fill="url(#ax)"/><path d="M3004.8 2009.5 C3008 1975 3020 1958 3034 1958.3 C3050 1958.6 3054 1984 3075 1983.6 C3094 1983 3104 1962 3108.3 1940.5" fill="none" stroke="#FFB43B" stroke-width="6.5" stroke-linecap="round"/><circle cx="3116" cy="2019" r="35.2" fill="#42C679"/><circle cx="3116" cy="2016.2" r="35.2" fill="#52D987"/><path d="M3116 2000 V2033 M3099.5 2016.5 H3132.5" stroke="#fff" stroke-width="9.5" stroke-linecap="round"/></svg>
</div></div>
</body></html>
